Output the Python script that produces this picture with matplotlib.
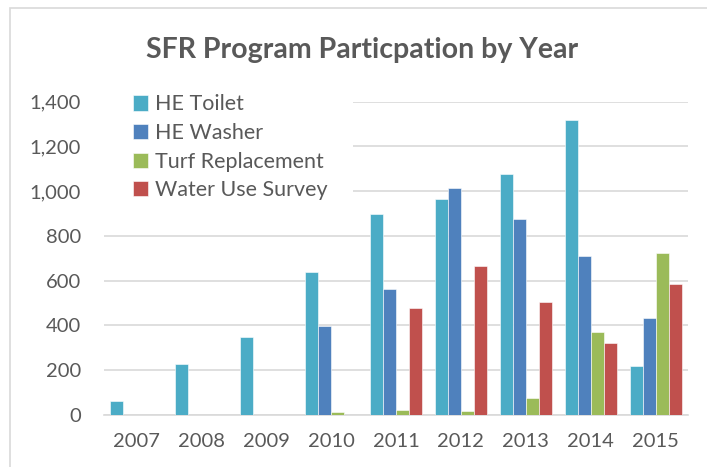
import matplotlib
matplotlib.use("Agg")
import matplotlib.pyplot as plt
import numpy as np
from matplotlib.patches import Rectangle

years = ["2007", "2008", "2009", "2010", "2011", "2012", "2013", "2014", "2015"]
he_toilet = [64, 226, 347, 639, 898, 963, 1078, 1318, 220]
he_washer = [0, 0, 0, 396, 563, 1013, 877, 710, 432]
turf_replacement = [0, 0, 0, 15, 22, 18, 74, 371, 725]
water_use_survey = [0, 0, 0, 0, 480, 664, 503, 320, 584]
series_names = ["HE Toilet", "HE Washer", "Turf Replacement", "Water Use Survey"]
colors = ["#4BACC6", "#4F81BD", "#9BBB59", "#C0504D"]

plt.rcParams['font.family'] = ['Lato', 'DejaVu Sans']

W, H = 707, 467
fig = plt.figure(figsize=(W / 100, H / 100), dpi=100)
ax = fig.add_axes([104 / W, 1 - 415 / H, (688 - 104) / W, (415 - 101.7) / H])

# outer chart border
fig.patches.append(Rectangle((9.5 / W, -0.05), 1.05, 1 - 8 / H + 0.05, transform=fig.transFigure,
                             fill=False, edgecolor="#D9D9D9", linewidth=1.2))

x = np.arange(len(years))
bw = 0.2
data = [he_toilet, he_washer, turf_replacement, water_use_survey]
for i, (vals, name, c) in enumerate(zip(data, series_names, colors)):
    ax.bar(x + (i - 1.5) * bw, vals, width=bw, color=c, label=name,
           edgecolor="white", linewidth=0.4, zorder=3)

ax.set_xlim(-0.5, len(years) - 0.5)
ax.set_ylim(0, 1400)
ax.set_yticks(range(0, 1401, 200))
ax.yaxis.set_major_formatter(matplotlib.ticker.FuncFormatter(lambda v, p: f"{int(v):,}"))
ax.set_xticks(x)
ax.set_xticklabels(years)
ax.grid(axis="y", color="#D9D9D9", linewidth=1.2, zorder=0)
for s in ["top", "right", "left"]:
    ax.spines[s].set_visible(False)
ax.spines["bottom"].set_color("#D9D9D9")
ax.spines["bottom"].set_linewidth(1.2)
ax.tick_params(axis="both", length=0, labelsize=14.5, colors="#595959")
ax.tick_params(axis="x", pad=13)
ax.tick_params(axis="y", pad=16.5)

# white area behind the legend (hides gridlines there)
ax.add_patch(Rectangle((104 / W, 1 - 200 / H), (353 - 104) / W, (200 - 92) / H,
                       transform=fig.transFigure, facecolor="white", edgecolor="none", zorder=2))

fig.text(362 / W, 1 - 50 / H, "SFR Program Particpation by Year",
         ha="center", va="center", fontsize=20.5, fontweight="bold", color="#595959")

leg = ax.legend(loc="upper left", bbox_to_anchor=(133 / W, 1 - 94.5 / H),
                bbox_transform=fig.transFigure, frameon=False, fontsize=15.5,
                handlelength=0.7, handleheight=0.7, handletextpad=0.3, labelspacing=0.4,
                borderpad=0.0, borderaxespad=0.0, labelcolor="#595959")
leg.set_zorder(5)

fig.savefig("out.png", dpi=100)
